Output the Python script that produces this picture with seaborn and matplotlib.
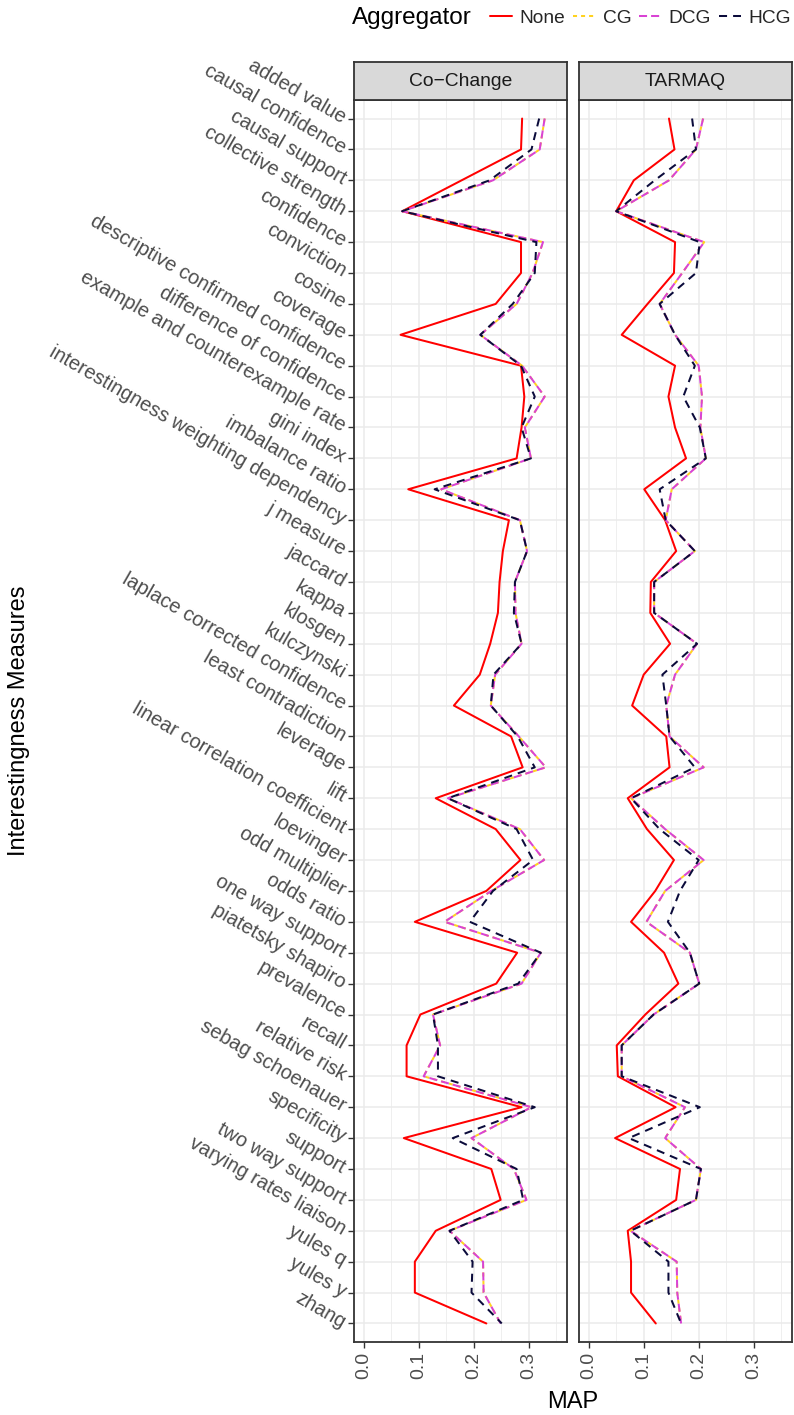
import numpy as np
import pandas as pd
import matplotlib
matplotlib.use("Agg")
import matplotlib.pyplot as plt
from matplotlib.lines import Line2D
from matplotlib.ticker import MultipleLocator
import seaborn as sns

sns.set_theme(style="white")
plt.rcParams["font.family"] = ["Liberation Sans", "DejaVu Sans"]

measures = [
    "added value", "causal confidence", "causal support", "collective strength",
    "confidence", "conviction", "cosine", "coverage",
    "descriptive confirmed confidence", "difference of confidence",
    "example and counterexample rate", "gini index", "imbalance ratio",
    "interestingness weighting dependency", "j measure", "jaccard", "kappa",
    "klosgen", "kulczynski", "laplace corrected confidence",
    "least contradiction", "leverage", "lift", "linear correlation coefficient",
    "loevinger", "odd multiplier", "odds ratio", "one way support",
    "piatetsky shapiro", "prevalence", "recall", "relative risk",
    "sebag schoenauer", "specificity", "support", "two way support",
    "varying rates liaison", "yules q", "yules y", "zhang",
]

aggregators = ["None", "CG", "DCG", "HCG"]
panels = ["Co\u2212Change", "TARMAQ"]

# MAP per measure, Co-Change
cc_none = [0.288, 0.286, 0.178, 0.070, 0.286, 0.286, 0.240, 0.067, 0.286, 0.292,
           0.287, 0.278, 0.081, 0.264, 0.253, 0.247, 0.244, 0.230, 0.211, 0.164,
           0.268, 0.289, 0.131, 0.240, 0.285, 0.223, 0.093, 0.279, 0.241, 0.103,
           0.078, 0.078, 0.287, 0.073, 0.232, 0.249, 0.131, 0.093, 0.093, 0.223]
cc_cg = [0.329, 0.320, 0.235, 0.070, 0.326, 0.307, 0.278, 0.212, 0.288, 0.329,
         0.293, 0.304, 0.141, 0.284, 0.297, 0.275, 0.276, 0.287, 0.239, 0.231,
         0.282, 0.331, 0.153, 0.284, 0.328, 0.232, 0.147, 0.322, 0.287, 0.126,
         0.139, 0.109, 0.305, 0.196, 0.273, 0.296, 0.156, 0.217, 0.218, 0.249]
cc_dcg = [0.329, 0.320, 0.235, 0.070, 0.326, 0.307, 0.278, 0.212, 0.288, 0.329,
          0.293, 0.304, 0.141, 0.284, 0.297, 0.275, 0.276, 0.287, 0.239, 0.231,
          0.282, 0.331, 0.153, 0.284, 0.328, 0.232, 0.147, 0.322, 0.287, 0.126,
          0.139, 0.109, 0.305, 0.196, 0.273, 0.296, 0.156, 0.217, 0.218, 0.249]
cc_hcg = [0.319, 0.305, 0.229, 0.070, 0.314, 0.311, 0.271, 0.212, 0.286, 0.311,
          0.287, 0.304, 0.129, 0.284, 0.297, 0.275, 0.273, 0.287, 0.236, 0.231,
          0.280, 0.311, 0.153, 0.278, 0.308, 0.235, 0.193, 0.322, 0.281, 0.126,
          0.135, 0.135, 0.311, 0.162, 0.278, 0.290, 0.156, 0.198, 0.196, 0.251]

# MAP per measure, TARMAQ
tq_none = [0.146, 0.156, 0.082, 0.050, 0.157, 0.155, 0.107, 0.060, 0.157, 0.145,
           0.157, 0.177, 0.101, 0.139, 0.159, 0.113, 0.112, 0.148, 0.100, 0.079,
           0.141, 0.147, 0.071, 0.106, 0.155, 0.121, 0.077, 0.137, 0.163, 0.103,
           0.051, 0.053, 0.158, 0.048, 0.166, 0.159, 0.071, 0.077, 0.077, 0.122]
tq_cg = [0.208, 0.195, 0.146, 0.050, 0.210, 0.170, 0.129, 0.157, 0.200, 0.206,
         0.203, 0.213, 0.151, 0.140, 0.193, 0.119, 0.119, 0.197, 0.157, 0.141,
         0.147, 0.209, 0.077, 0.139, 0.209, 0.139, 0.105, 0.184, 0.201, 0.118,
         0.060, 0.060, 0.175, 0.139, 0.204, 0.195, 0.076, 0.160, 0.161, 0.168]
tq_dcg = [0.208, 0.195, 0.146, 0.050, 0.210, 0.170, 0.129, 0.157, 0.200, 0.206,
          0.203, 0.213, 0.151, 0.140, 0.193, 0.119, 0.119, 0.197, 0.157, 0.141,
          0.147, 0.209, 0.077, 0.139, 0.209, 0.139, 0.105, 0.184, 0.201, 0.118,
          0.060, 0.060, 0.175, 0.139, 0.204, 0.195, 0.076, 0.160, 0.161, 0.168]
tq_hcg = [0.188, 0.195, 0.120, 0.050, 0.202, 0.195, 0.129, 0.157, 0.193, 0.172,
          0.202, 0.213, 0.129, 0.140, 0.193, 0.119, 0.119, 0.197, 0.134, 0.141,
          0.147, 0.193, 0.077, 0.129, 0.200, 0.166, 0.144, 0.184, 0.201, 0.118,
          0.060, 0.060, 0.202, 0.073, 0.204, 0.195, 0.076, 0.145, 0.145, 0.168]

x_ticks = [0.0, 0.1, 0.2, 0.3]

series = {
    panels[0]: {"None": cc_none, "CG": cc_cg, "DCG": cc_dcg, "HCG": cc_hcg},
    panels[1]: {"None": tq_none, "CG": tq_cg, "DCG": tq_dcg, "HCG": tq_hcg},
}

rows = []
for panel, by_agg in series.items():
    for agg, vals in by_agg.items():
        for i, (m, v) in enumerate(zip(measures, vals)):
            rows.append({"panel": panel, "Aggregator": agg, "measure": m,
                         "pos": i, "MAP": v})
df = pd.DataFrame(rows)

palette = {"None": "#FF0000", "CG": "#FFD21F", "DCG": "#D943D4", "HCG": "#0B0B3B"}
dashes = {"None": "", "CG": (2, 2), "DCG": (4, 2), "HCG": (4, 3)}
LW = 1.45
INK = "#333333"
TXT = "#4D4D4D"
GRID = "#EBEBEB"

W, H = 794, 1415
fig = plt.figure(figsize=(W / 100, H / 100), dpi=100)

def frac_box(x0, y0, x1, y1):
    return [x0 / W, 1 - y1 / H, (x1 - x0) / W, (y1 - y0) / H]

panel_px = [(354, 567), (579, 792)]
ptop, pbot = 100, 1342
stop = 62

for k, panel in enumerate(panels):
    x0, x1 = panel_px[k]
    ax = fig.add_axes(frac_box(x0, ptop, x1, pbot))
    sub = df[df["panel"] == panel]
    sns.lineplot(data=sub, x="MAP", y="pos", hue="Aggregator", style="Aggregator",
                 hue_order=aggregators, style_order=aggregators,
                 palette=palette, dashes=dashes, orient="y", estimator=None,
                 linewidth=LW, legend=False, ax=ax)
    ax.set_xlim(-0.0176, 0.3696)
    ax.set_ylim(len(measures) - 0.4, -0.6)
    ax.set_xticks(x_ticks)
    ax.xaxis.set_minor_locator(MultipleLocator(0.05))
    ax.set_yticks(range(len(measures)))
    ax.set_facecolor("white")
    ax.grid(True, which="major", color=GRID, linewidth=1.1, zorder=0)
    ax.grid(True, which="minor", axis="x", color=GRID, linewidth=0.55, zorder=0)
    ax.set_axisbelow(True)
    for s in ax.spines.values():
        s.set_color(INK)
        s.set_linewidth(1.3)
    ax.tick_params(axis="both", which="major", length=4, width=1.0, color=INK,
                   labelcolor=TXT, labelsize=14, left=True, bottom=True, pad=3)
    ax.tick_params(axis="x", which="minor", length=0)
    ax.set_xticklabels([f"{t:.1f}" for t in x_ticks], rotation=90)
    if k == 0:
        ax.set_yticklabels(measures, rotation=-30, ha="right", va="center",
                           rotation_mode="anchor", fontsize=14.4)
    else:
        ax.tick_params(axis="y", left=False, labelleft=False)
    ax.set_xlabel("")
    ax.set_ylabel("")

    # facet strip
    sax = fig.add_axes(frac_box(x0, stop, x1, ptop))
    sax.set_facecolor("#D9D9D9")
    sax.set_xticks([])
    sax.set_yticks([])
    for s in sax.spines.values():
        s.set_color(INK)
        s.set_linewidth(1.3)
    sax.text(0.5, 0.5, panel, ha="center", va="center", fontsize=13.9,
             color="#1A1A1A", transform=sax.transAxes)

fig.text(573 / W, 1 - 1402 / H, "MAP", ha="center", va="center", fontsize=17,
         color="black")
fig.text(19 / W, 1 - 721 / H, "Interestingness Measures", ha="center", va="center",
         rotation=90, fontsize=17, color="black")

# legend across the top
fig.text(352 / W, 1 - 18 / H, "Aggregator", ha="left", va="center", fontsize=17.5,
         color="black")
handles = []
for a in aggregators:
    d = dashes[a]
    h = Line2D([], [], color=palette[a], linewidth=LW,
               linestyle="-" if d == "" else (0, d))
    handles.append(h)
fig.legend(handles, aggregators, loc="center right",
           bbox_to_anchor=(791 / W, 1 - 18 / H), ncol=4, frameon=False,
           fontsize=13.8, handlelength=1.15, handletextpad=0.4,
           columnspacing=0.4, borderaxespad=0, borderpad=0)

fig.savefig("out.png", dpi=100, facecolor="white")
